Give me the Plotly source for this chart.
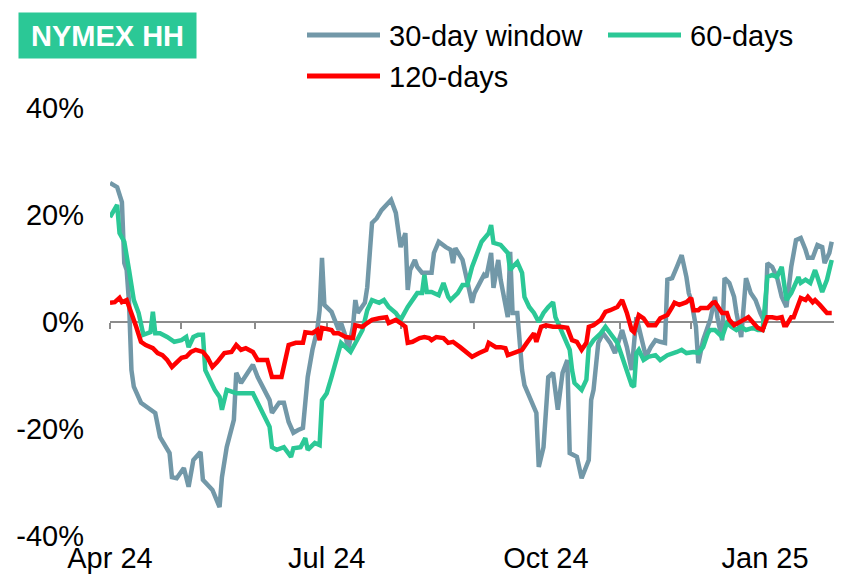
import plotly.graph_objects as go

# ---------------- data ----------------
series_names = ["30-day window", "60-days", "120-days"]

d30 = ["2024-04-01","2024-04-03","2024-04-04","2024-04-06","2024-04-07","2024-04-08","2024-04-09","2024-04-10",
       "2024-04-11","2024-04-14","2024-04-20","2024-04-22","2024-04-26","2024-04-27","2024-04-29","2024-05-02",
       "2024-05-04","2024-05-06","2024-05-09","2024-05-10","2024-05-14","2024-05-17","2024-05-18","2024-05-20",
       "2024-05-23","2024-05-24","2024-05-26","2024-05-31","2024-06-02","2024-06-07","2024-06-08","2024-06-11",
       "2024-06-13","2024-06-15","2024-06-17","2024-06-19","2024-06-21","2024-06-23","2024-06-25","2024-06-27",
       "2024-06-28","2024-06-29","2024-06-30","2024-07-03","2024-07-04","2024-07-06","2024-07-07","2024-07-09",
       "2024-07-10","2024-07-12","2024-07-13","2024-07-14","2024-07-17","2024-07-18","2024-07-20","2024-07-22",
       "2024-07-24","2024-07-27","2024-07-28","2024-07-30","2024-08-01","2024-08-02","2024-08-03","2024-08-04",
       "2024-08-05","2024-08-07","2024-08-08","2024-08-10","2024-08-14","2024-08-15","2024-08-17","2024-08-20",
       "2024-08-22","2024-08-23","2024-08-24","2024-08-27","2024-08-29","2024-08-31","2024-09-01","2024-09-03",
       "2024-09-05","2024-09-06","2024-09-08","2024-09-09","2024-09-11","2024-09-12","2024-09-14","2024-09-15",
       "2024-09-16","2024-09-17","2024-09-19","2024-09-21","2024-09-22","2024-09-24","2024-09-27","2024-09-28",
       "2024-09-30","2024-10-02","2024-10-04","2024-10-06","2024-10-08","2024-10-10","2024-10-11","2024-10-14",
       "2024-10-16","2024-10-19","2024-10-20","2024-10-21","2024-10-23","2024-10-25","2024-10-28","2024-10-30",
       "2024-11-02","2024-11-04","2024-11-06","2024-11-08","2024-11-09","2024-11-12","2024-11-14","2024-11-16",
       "2024-11-18","2024-11-20","2024-11-21","2024-11-23","2024-11-25","2024-11-27","2024-11-29","2024-11-30",
       "2024-12-01","2024-12-03","2024-12-04","2024-12-06","2024-12-09","2024-12-11","2024-12-12","2024-12-14",
       "2024-12-15","2024-12-17","2024-12-19","2024-12-20","2024-12-22","2024-12-23","2024-12-24","2024-12-26",
       "2024-12-28","2024-12-30","2025-01-01","2025-01-02","2025-01-04","2025-01-06","2025-01-08","2025-01-10",
       "2025-01-11","2025-01-12","2025-01-14","2025-01-16","2025-01-18","2025-01-19","2025-01-21","2025-01-23",
       "2025-01-25","2025-01-26","2025-01-28","2025-01-29"]
v30 = [26.0,25.4,25.2,22.4,11.0,9.7,3.6,-9.0,
       -12.1,-15.1,-17.0,-21.5,-24.5,-29.0,-29.2,-27.3,
       -30.8,-25.8,-24.3,-29.5,-31.4,-34.6,-29.0,-23.4,
       -18.3,-9.5,-11.4,-8.0,-10.3,-14.6,-17.0,-15.1,
       -15.1,-18.7,-20.7,-20.2,-19.8,-10.3,-5.2,-1.5,
       2.2,12.0,3.2,1.9,0.9,-1.5,-0.2,-2.8,
       -5.2,-0.9,4.1,1.7,3.6,6.5,18.5,19.4,
       20.9,22.4,22.8,20.4,14.0,15.3,16.6,6.0,
       9.7,11.6,10.3,9.2,9.2,12.9,15.0,14.0,
       13.5,11.0,13.8,11.6,7.9,3.6,5.4,7.3,
       8.8,8.4,12.9,6.4,11.6,7.9,3.6,0.9,
       13.1,1.7,1.7,-9.0,-11.8,-14.0,-17.0,-27.1,
       -23.4,-10.3,-9.5,-16.4,-9.5,-7.1,-24.5,-25.2,
       -29.2,-25.8,-14.6,-12.7,-3.9,-2.1,-3.9,-5.8,
       -1.5,-4.7,-9.0,0.9,-0.9,-6.5,-4.7,-3.4,
       -3.7,-3.9,7.9,8.2,10.3,12.5,8.4,5.4,
       4.1,-0.9,-7.7,-3.4,0.4,4.7,0.9,-3.4,
       8.2,7.3,4.7,1.7,-2.8,2.2,8.2,5.4,
       4.1,1.7,-0.2,11.0,10.3,8.4,4.7,2.8,
       6.5,10.3,15.3,15.7,13.5,12.0,12.0,14.4,
       14.0,11.0,12.9,15.0]

d60 = ["2024-04-01","2024-04-04","2024-04-05","2024-04-07","2024-04-09","2024-04-11","2024-04-13","2024-04-15",
       "2024-04-18","2024-04-19","2024-04-20","2024-04-22","2024-04-25","2024-04-28","2024-05-01","2024-05-03",
       "2024-05-04","2024-05-06","2024-05-08","2024-05-10","2024-05-11","2024-05-15","2024-05-17","2024-05-18",
       "2024-05-20","2024-05-24","2024-05-28","2024-05-31","2024-06-02","2024-06-04","2024-06-07","2024-06-08",
       "2024-06-10","2024-06-13","2024-06-16","2024-06-17","2024-06-20","2024-06-22","2024-06-23","2024-06-26",
       "2024-06-28","2024-06-29","2024-07-01","2024-07-03","2024-07-06","2024-07-07","2024-07-11","2024-07-13",
       "2024-07-16","2024-07-18","2024-07-20","2024-07-23","2024-07-25","2024-07-27","2024-07-30","2024-08-01",
       "2024-08-04","2024-08-08","2024-08-10","2024-08-11","2024-08-12","2024-08-14","2024-08-17","2024-08-19",
       "2024-08-21","2024-08-22","2024-08-25","2024-08-27","2024-08-29","2024-08-31","2024-09-02","2024-09-04",
       "2024-09-07","2024-09-08","2024-09-09","2024-09-12","2024-09-15","2024-09-16","2024-09-17","2024-09-19",
       "2024-09-21","2024-09-22","2024-09-24","2024-09-26","2024-09-28","2024-09-30","2024-10-02","2024-10-04",
       "2024-10-05","2024-10-08","2024-10-11","2024-10-12","2024-10-13","2024-10-16","2024-10-18","2024-10-19",
       "2024-10-21","2024-10-24","2024-10-26","2024-10-28","2024-10-31","2024-11-02","2024-11-04","2024-11-06",
       "2024-11-07","2024-11-08","2024-11-09","2024-11-11","2024-11-13","2024-11-16","2024-11-18","2024-11-21",
       "2024-11-25","2024-11-27","2024-11-29","2024-12-02","2024-12-04","2024-12-06","2024-12-08","2024-12-09",
       "2024-12-11","2024-12-14","2024-12-15","2024-12-16","2024-12-18","2024-12-20","2024-12-22","2024-12-24",
       "2024-12-27","2024-12-29","2024-12-31","2025-01-02","2025-01-04","2025-01-06","2025-01-08","2025-01-09",
       "2025-01-10","2025-01-12","2025-01-15","2025-01-16","2025-01-18","2025-01-20","2025-01-22","2025-01-23",
       "2025-01-25","2025-01-27","2025-01-29"]
v60 = [19.6,21.9,16.6,15.0,9.7,4.1,1.7,-2.4,
       -1.9,1.9,-2.1,-2.1,-2.8,-3.7,-3.4,-2.8,
       -4.7,-2.8,-2.4,-2.4,-9.0,-12.7,-14.0,-16.4,
       -12.7,-13.3,-13.3,-13.3,-15.1,-17.0,-19.6,-23.4,
       -23.9,-23.4,-25.2,-23.6,-23.4,-21.7,-23.9,-22.6,
       -23.0,-14.6,-13.3,-10.3,-5.2,-3.9,-5.6,-3.9,
       -1.5,2.2,4.1,3.6,4.1,2.8,1.7,0.4,
       2.8,5.4,5.4,8.8,5.6,5.6,5.0,7.3,
       4.7,4.1,5.4,6.9,6.9,10.3,12.9,15.0,
       16.6,18.1,14.8,14.4,12.9,9.7,10.3,11.2,
       9.2,4.7,2.8,1.7,0.0,1.7,2.8,3.7,
       0.9,-2.1,-5.2,-9.0,-11.4,-12.7,-10.8,-4.7,
       -3.4,-2.1,-0.9,-2.1,-3.9,-6.5,-9.0,-11.8,
       -12.1,-5.8,-5.2,-7.1,-6.5,-6.2,-7.1,-6.2,
       -5.6,-5.2,-5.8,-5.6,-5.8,-4.7,-2.1,-1.5,
       -1.5,-2.8,-1.5,-0.2,-0.9,-1.5,-0.9,-1.5,
       -1.1,-1.5,-1.5,8.4,8.8,8.4,10.3,6.5,
       4.1,5.4,8.4,7.3,7.9,7.3,9.7,8.4,
       5.6,7.9,11.6]

d120 = ["2024-04-01","2024-04-03","2024-04-05","2024-04-06","2024-04-08","2024-04-10","2024-04-12","2024-04-14",
        "2024-04-16","2024-04-19","2024-04-21","2024-04-23","2024-04-25","2024-04-27","2024-04-29","2024-05-01",
        "2024-05-03","2024-05-05","2024-05-07","2024-05-10","2024-05-12","2024-05-14","2024-05-16","2024-05-19",
        "2024-05-22","2024-05-24","2024-05-26","2024-05-28","2024-05-31","2024-06-02","2024-06-06","2024-06-08",
        "2024-06-12","2024-06-15","2024-06-18","2024-06-21","2024-06-22","2024-06-25","2024-06-27","2024-06-28",
        "2024-06-29","2024-07-03","2024-07-04","2024-07-06","2024-07-09","2024-07-12","2024-07-13","2024-07-16",
        "2024-07-18","2024-07-20","2024-07-23","2024-07-26","2024-07-27","2024-07-30","2024-08-01","2024-08-03",
        "2024-08-04","2024-08-06","2024-08-09","2024-08-11","2024-08-13","2024-08-14","2024-08-16","2024-08-19",
        "2024-08-21","2024-08-23","2024-08-26","2024-08-29","2024-08-31","2024-09-03","2024-09-06","2024-09-07",
        "2024-09-10","2024-09-12","2024-09-14","2024-09-15","2024-09-18","2024-09-21","2024-09-23","2024-09-26",
        "2024-09-27","2024-09-29","2024-10-01","2024-10-04","2024-10-07","2024-10-10","2024-10-12","2024-10-14",
        "2024-10-16","2024-10-18","2024-10-19","2024-10-21","2024-10-24","2024-10-26","2024-10-28","2024-10-31",
        "2024-11-02","2024-11-04","2024-11-06","2024-11-07","2024-11-09","2024-11-11","2024-11-13","2024-11-16",
        "2024-11-18","2024-11-21","2024-11-23","2024-11-24","2024-11-26","2024-11-29","2024-12-01","2024-12-02",
        "2024-12-04","2024-12-05","2024-12-08","2024-12-10","2024-12-11","2024-12-14","2024-12-16","2024-12-17",
        "2024-12-19","2024-12-21","2024-12-23","2024-12-25","2024-12-27","2024-12-29","2024-12-31","2025-01-02",
        "2025-01-04","2025-01-06","2025-01-08","2025-01-09","2025-01-10","2025-01-12","2025-01-13","2025-01-15",
        "2025-01-16","2025-01-18","2025-01-19","2025-01-21","2025-01-22","2025-01-24","2025-01-26","2025-01-27",
        "2025-01-29"]
v120 = [3.6,3.7,4.5,3.7,4.1,1.7,-0.9,-3.7,
        -4.3,-4.9,-5.8,-6.2,-7.1,-8.4,-7.5,-6.7,
        -6.5,-5.6,-5.2,-5.6,-6.7,-8.4,-7.5,-5.8,
        -5.6,-4.3,-5.2,-4.9,-5.6,-7.1,-7.1,-10.3,
        -10.3,-4.3,-3.9,-3.9,-1.9,-2.1,-1.5,-3.4,
        -1.1,-1.5,-2.1,-2.1,-2.8,-3.0,-0.6,-0.9,
        -0.2,0.4,0.7,0.9,-0.2,0.4,-0.2,-0.9,
        -3.9,-3.7,-3.0,-2.8,-3.0,-3.4,-2.8,-3.0,
        -3.9,-3.7,-4.7,-5.8,-6.5,-5.8,-5.2,-3.9,
        -4.7,-4.7,-4.9,-6.2,-5.8,-5.2,-3.9,-2.1,
        -3.7,-0.9,-0.6,-0.9,-0.9,-1.1,-3.4,-3.7,
        -5.2,-3.9,-0.9,-0.6,0.4,1.9,2.2,2.8,
        4.1,1.7,-1.5,-1.9,1.3,0.7,-0.6,-0.6,
        0.7,1.3,2.8,3.6,3.2,3.7,4.5,2.2,
        2.2,2.6,2.6,3.6,3.7,1.7,1.7,0.4,
        -0.6,0.0,0.4,0.9,-0.2,-1.1,-1.5,0.9,
        0.9,0.7,0.9,-0.6,-0.6,0.9,0.9,3.6,
        4.5,4.1,4.7,3.7,4.1,3.2,2.2,1.7,
        1.7]

y_ticks = [-40, -20, 0, 20, 40]
y_tick_labels = ["-40%", "-20%", "0%", "20%", "40%"]
x_range = ["2024-04-01", "2025-01-30 09:00"]
title_text = "NYMEX HH"

# ---------------- styles ----------------
colors = ["#7298A8", "#2BC896", "#FF0000"]
FONT = "Liberation Sans, Arial, sans-serif"
FS = 29

# target geometry in screenshot pixels; the page body has an 8px margin
OFF = 8
W, H = 842, 574                 # window
L, T = 110, 108                 # plot-area top-left in the window
PR, PB = 835, 536               # plot-area right / bottom in the window
PW, PH = PR - L, PB - T
def px_x(p):
    return (p - L) / PW
def px_y(p):
    return 1 - (p - T) / PH

fig = go.Figure()
for name, xs, ys, col in zip(series_names, [d30, d60, d120], [v30, v60, v120], colors):
    fig.add_trace(go.Scatter(x=xs, y=ys, name=name, mode="lines", showlegend=False,
                             line=dict(color=col, width=4.5)))
# empty trace so the label axis is rendered
fig.add_trace(go.Scatter(x=[], y=[], xaxis="x2", showlegend=False, hoverinfo="skip"))

fig.update_layout(
    width=W - OFF, height=H - OFF,
    margin=dict(l=L - OFF, r=W - PR, t=T - OFF, b=H - PB, autoexpand=False),
    paper_bgcolor="white", plot_bgcolor="white",
    font=dict(family=FONT, size=FS, color="black"),
    showlegend=False,
    xaxis=dict(type="date", range=x_range, anchor="free", position=0.5,
               showline=True, linecolor="#8C8C8C", linewidth=1.5,
               ticks="outside", ticklen=6, tickwidth=1.5, tickcolor="#8C8C8C",
               dtick="M1", tick0="2024-04-01", showticklabels=False,
               showgrid=False, zeroline=False, layer="below traces", automargin=False),
    xaxis2=dict(type="date", range=x_range, overlaying="x", anchor="y", side="bottom",
                showline=False, ticks="", dtick="M3", tick0="2024-04-01",
                tickformat="%b %y", showgrid=False, zeroline=False, automargin=False,
                tickfont=dict(family=FONT, size=FS, color="black"),
                ticklabelstandoff=2),
    yaxis=dict(range=[-40, 40], tickmode="array", tickvals=y_ticks, ticktext=y_tick_labels,
               showgrid=False, zeroline=False, showline=False, ticks="", automargin=False,
               tickfont=dict(family=FONT, size=FS, color="black"),
               ticklabelstandoff=25),
)

# legend (drawn in the top margin, Excel-style long line samples)
legend_pos = [(307, 35), (608, 35), (307, 76)]   # pixel position of each line sample start
for name, col, (lx, ly) in zip(series_names, colors, legend_pos):
    fig.add_shape(type="line", xref="paper", yref="paper",
                  x0=px_x(lx), x1=px_x(lx + 73), y0=px_y(ly), y1=px_y(ly),
                  line=dict(color=col, width=5))
    fig.add_annotation(xref="paper", yref="paper", x=px_x(lx + 80), y=px_y(ly + 1),
                       xanchor="left", yanchor="middle", showarrow=False, text=name,
                       font=dict(family=FONT, size=FS, color="black"))

fig.add_annotation(xref="paper", yref="paper", x=px_x(18), y=px_y(12),
                   xanchor="left", yanchor="top", showarrow=False,
                   text="<b>" + title_text + "</b>",
                   font=dict(family=FONT, size=FS, color="white"),
                   bgcolor="#2BC896", width=177, height=45, borderpad=0, align="center")

fig.write_html("out.html")
